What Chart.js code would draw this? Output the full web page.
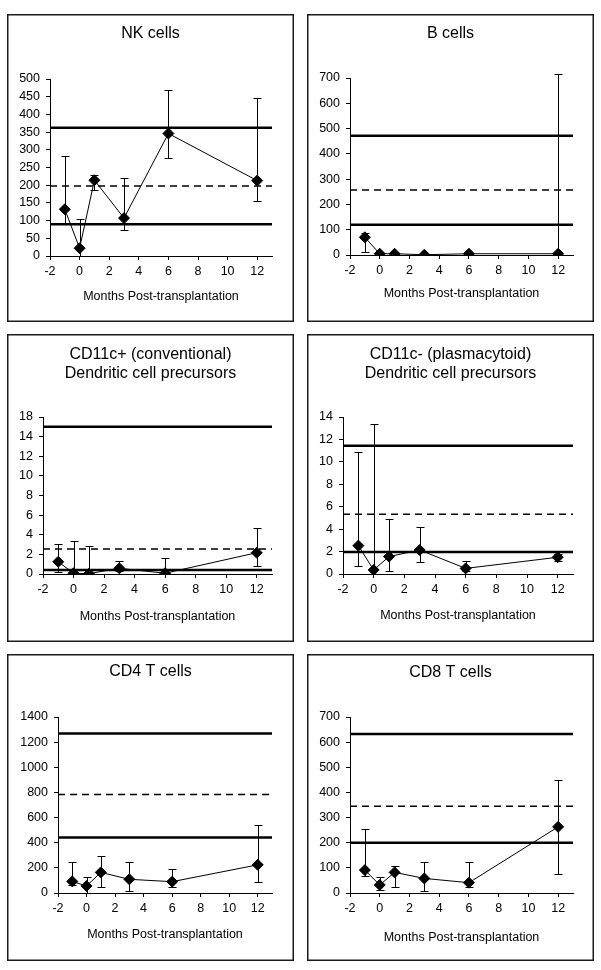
<!DOCTYPE html>
<html>
<head>
<meta charset="utf-8">
<script src="https://cdn.jsdelivr.net/npm/chart.js@4.4.1/dist/chart.umd.min.js"></script>
<style>
  body { margin: 0; background: #fff; width: 601px; height: 970px; position: relative; overflow: hidden; }
  .panel { position: absolute; }
  .panel canvas { display: block; }
</style>
</head>
<body>
<div class="panel" style="left:7px;top:14px"><canvas id="nk" width="287" height="308"></canvas></div>
<div class="panel" style="left:307px;top:14px"><canvas id="bcell" width="287" height="308"></canvas></div>
<div class="panel" style="left:7px;top:334px"><canvas id="dcPos" width="287" height="308"></canvas></div>
<div class="panel" style="left:307px;top:334px"><canvas id="dcNeg" width="287" height="308"></canvas></div>
<div class="panel" style="left:7px;top:654px"><canvas id="cd4" width="287" height="307"></canvas></div>
<div class="panel" style="left:307px;top:654px"><canvas id="cd8" width="287" height="307"></canvas></div>
<script>
// Meses (eje x) comunes a todos los paneles
const months = [-1, 0, 1, 3, 6, 12];
const xTickValues = [-2, 0, 2, 4, 6, 8, 10, 12];

// NK cells
const nkValues = [132, 22, 214, 107, 346, 213];
const nkLow = [92, 0, 186, 74, 278, 156];
const nkHigh = [282, 104, 228, 220, 470, 447];
const nkRef = [90, 198, 362]; // inferior, media, superior

// B cells
const bValues = [70, 5, 5, 1, 5, 5];
const bLow = [12, 0, 0, 0, 0, 0];
const bHigh = [88, 8, 8, 2, 8, 715];
const bRef = [120, 257, 472];

// CD11c+ (conventional)
const dcPosValues = [1.25, 0.08, 0.03, 0.58, 0.08, 2.17];
const dcPosLow = [0.2, 0, 0, 0.35, 0, 0.82];
const dcPosHigh = [3.06, 3.4, 2.9, 1.36, 1.66, 4.66];
const dcPosRef = [0.42, 2.55, 15.0];
const dcPosYLabels = ['0', '2', '4', '6', '8', '10', '12', '14', '18'];

// CD11c- (plasmacytoid)
const dcNegValues = [2.53, 0.36, 1.55, 2.14, 0.5, 1.49];
const dcNegLow = [0.71, 0, 0.3, 1.04, 0.3, 1.2];
const dcNegHigh = [10.84, 13.37, 4.89, 4.17, 1.16, 1.8];
const dcNegRef = [1.97, 5.33, 11.44];

// CD4 T cells
const cd4Values = [92, 56, 164, 109, 90, 224];
const cd4Low = [60, 0, 45, 18, 45, 87];
const cd4High = [249, 124, 297, 249, 191, 541];
const cd4Ref = [441, 784, 1268];

// CD8 T cells
const cd8Values = [91, 32, 82, 58, 41, 263];
const cd8Low = [68, 12, 23, 9, 25, 77];
const cd8High = [254, 65, 109, 125, 125, 451];
const cd8Ref = [200, 345, 632];

Chart.defaults.font.family = '"Liberation Sans", Arial, sans-serif';
Chart.defaults.color = '#000';

/* Plugin: marco negro de cada panel + titulo centrado en todo el panel */
const panelBorder = {
  id: 'panelBorder',
  afterLayout(chart) {
    if (chart.titleBlock) {
      chart.titleBlock.left = 0;
      chart.titleBlock.right = chart.width;
    }
  },
  beforeDraw(chart) {
    const ctx = chart.ctx;
    ctx.save();
    ctx.fillStyle = '#fff';
    ctx.fillRect(0, 0, chart.width, chart.height);
    ctx.strokeStyle = '#1a1a1a';
    ctx.lineWidth = 1.5;
    ctx.strokeRect(0.75, 0.75, chart.width - 1.5, chart.height - 1.5);
    ctx.restore();
  }
};

/* Plugin: barras de error (se leen del dataset 0) */
const errorBars = {
  id: 'errorBars',
  beforeDatasetsDraw(chart) {
    const ds = chart.data.datasets[0];
    const {ctx, scales: {x, y}} = chart;
    ctx.save();
    ctx.strokeStyle = '#000';
    ctx.lineWidth = 1;
    ds.data.forEach((p, i) => {
      const px = Math.round(x.getPixelForValue(p.x)) + 0.5;
      const top = Math.round(y.getPixelForValue(ds.errHigh[i])) + 0.5;
      const bot = Math.round(y.getPixelForValue(ds.errLow[i])) + 0.5;
      ctx.beginPath();
      ctx.moveTo(px, top); ctx.lineTo(px, bot);
      ctx.moveTo(px - 4, top); ctx.lineTo(px + 4, top);
      ctx.moveTo(px - 4, bot); ctx.lineTo(px + 4, bot);
      ctx.stroke();
    });
    ctx.restore();
  }
};

/* Linea horizontal de referencia de x=-2 a x=13 */
function refLine(v, width, dash) {
  return {
    data: [{x: -2, y: v}, {x: 13, y: v}],
    showLine: true,
    borderColor: '#000',
    borderWidth: width,
    borderDash: dash,
    pointRadius: 0
  };
}

/* Crea un panel. g = geometria (L: izq. del eje, R: margen dcho, pt/pb: padding titulo, B: alto eje x, xt: centro titulo eje x) */
function creaPanel(id, title, values, low, high, ref, yMax, yStep, yLabels, g) {
  new Chart(document.getElementById(id), {
    type: 'scatter',
    data: {
      datasets: [
        {
          data: months.map((m, i) => ({x: m, y: values[i]})),
          errLow: low,
          errHigh: high,
          showLine: true,
          borderColor: '#000',
          borderWidth: 1,
          pointStyle: 'rectRot',
          pointRadius: 5.5,
          pointBackgroundColor: '#000',
          pointBorderColor: '#000',
          pointBorderWidth: 1
        },
        refLine(ref[2], 2.5, []),
        refLine(ref[1], 1.5, [7, 5]),
        refLine(ref[0], 2.5, [])
      ]
    },
    options: {
      responsive: false,
      animation: false,
      layout: { padding: { left: 0, right: g.R, top: 0, bottom: 0 } },
      plugins: {
        legend: { display: false },
        tooltip: { enabled: false },
        title: {
          display: true,
          text: title,
          color: '#000',
          font: { size: 16, weight: 'normal', lineHeight: 1.15 },
          padding: { top: g.pt, bottom: g.pb }
        }
      },
      scales: {
        x: {
          type: 'linear',
          min: -2,
          max: 13,
          afterBuildTicks: (s) => { s.ticks = xTickValues.map(v => ({value: v})); },
          afterFit: (s) => { s.height = g.B; },
          grid: { drawOnChartArea: false, drawTicks: true, tickLength: 4, tickColor: '#000' },
          border: { color: '#000', width: 1 },
          ticks: { font: { size: 12.5 }, padding: 4, color: '#000', maxRotation: 0, autoSkip: false },
          title: {
            display: true,
            text: 'Months Post-transplantation',
            color: '#000',
            font: { size: 12.5, lineHeight: 1.2 },
            padding: { top: 0, bottom: g.B - g.xt - 7.5 }
          }
        },
        y: {
          min: 0,
          max: yMax,
          afterFit: (s) => { s.width = g.L; },
          grid: { drawOnChartArea: false, drawTicks: true, tickLength: 4, tickColor: '#000' },
          border: { color: '#000', width: 1 },
          ticks: {
            stepSize: yStep,
            autoSkip: false,
            font: { size: 12.5 },
            padding: 6,
            color: '#000',
            callback: (v, i) => yLabels ? yLabels[i] : v
          }
        }
      }
    },
    plugins: [panelBorder, errorBars]
  });
}

creaPanel('nk', 'NK cells', nkValues, nkLow, nkHigh, nkRef, 500, 50, null,
  {L: 43, R: 22, pt: 10, pb: 36.6, B: 66, xt: 41});
creaPanel('bcell', 'B cells', bValues, bLow, bHigh, bRef, 700, 100, null,
  {L: 43, R: 21, pt: 10, pb: 35.6, B: 67, xt: 39});
creaPanel('dcPos', ['CD11c+ (conventional)', 'Dendritic cell precursors'], dcPosValues, dcPosLow, dcPosHigh, dcPosRef, 16, 2, dcPosYLabels,
  {L: 36, R: 22, pt: 11.8, pb: 34.4, B: 68, xt: 42.5});
creaPanel('dcNeg', ['CD11c- (plasmacytoid)', 'Dendritic cell precursors'], dcNegValues, dcNegLow, dcNegHigh, dcNegRef, 14, 2, null,
  {L: 36, R: 21, pt: 11.8, pb: 34.4, B: 68, xt: 41.5});
creaPanel('cd4', 'CD4 T cells', cd4Values, cd4Low, cd4High, cd4Ref, 1400, 200, null,
  {L: 51, R: 22, pt: 8.5, pb: 36.1, B: 68, xt: 42});
creaPanel('cd8', 'CD8 T cells', cd8Values, cd8Low, cd8High, cd8Ref, 700, 100, null,
  {L: 43, R: 21, pt: 9, pb: 35.6, B: 68, xt: 45});
</script>
</body>
</html>
